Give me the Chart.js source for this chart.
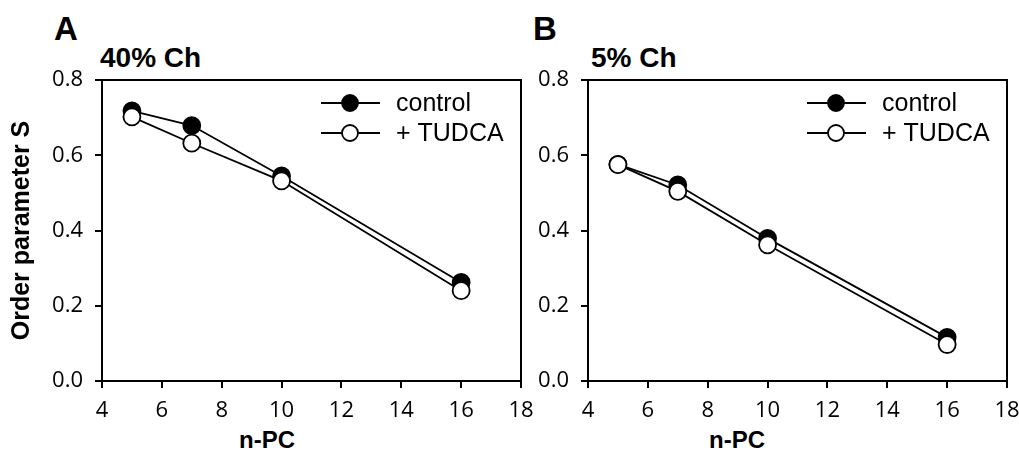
<!DOCTYPE html>
<html>
<head>
<meta charset="utf-8">
<script src="https://cdn.jsdelivr.net/npm/chart.js@4/dist/chart.umd.min.js"></script>
<style>
  html, body { margin: 0; padding: 0; background: #fff; }
  body { width: 1019px; height: 450px; position: relative; overflow: hidden; }
  .wrap { position: absolute; top: 0; }
  .lbl { position: absolute; font-family: "Liberation Sans", Arial, sans-serif; font-weight: bold; color: #000; white-space: nowrap; line-height: 1; }
</style>
</head>
<body>
<div class="lbl" style="left:54px; top:12px; font-size:33px;">A</div>
<div class="lbl" style="left:533px; top:12px; font-size:33px;">B</div>
<div class="lbl" style="left:100px; top:44px; font-size:28px;">40% Ch</div>
<div class="lbl" style="left:591px; top:44px; font-size:28px;">5% Ch</div>
<div class="lbl" id="xtA" style="top:428px; font-size:24px;">n-PC</div>
<div class="lbl" id="xtB" style="top:428px; font-size:24px;">n-PC</div>
<div class="wrap" style="left:0px;"><canvas id="cA" width="545" height="450"></canvas></div>
<div class="wrap" style="left:510px;"><canvas id="cB" width="521" height="450"></canvas></div>
<script>
// ---- data ----
const nPC = [5, 7, 10, 16];
const control40 = [0.718, 0.679, 0.545, 0.262];
const tudca40   = [0.702, 0.632, 0.532, 0.240];
const control5  = [0.576, 0.521, 0.379, 0.116];
const tudca5    = [0.575, 0.504, 0.362, 0.097];
const xTickValues = [4, 6, 8, 10, 12, 14, 16, 18];
const yTickValues = [0.0, 0.2, 0.4, 0.6, 0.8];
const yTickLabels = ['0.0', '0.2', '0.4', '0.6', '0.8'];
const seriesNames = ['control', '+ TUDCA'];

// center the n-PC labels
function placeCenter(id, cx) {
  const el = document.getElementById(id);
  el.style.left = (cx - el.offsetWidth / 2) + 'px';
}
placeCenter('xtA', 267);
placeCenter('xtB', 737);

const framePlugin = {
  id: 'frame',
  beforeDatasetsDraw(chart) {
    const { ctx, chartArea: a } = chart;
    ctx.save();
    ctx.strokeStyle = '#000';
    ctx.lineWidth = 2;
    ctx.beginPath();
    ctx.moveTo(a.left - 1, a.top);
    ctx.lineTo(a.right, a.top);
    ctx.lineTo(a.right, a.bottom + 1);
    ctx.stroke();
    ctx.restore();
  }
};

const legendPlugin = {
  id: 'inLegend',
  afterDatasetsDraw(chart) {
    const { ctx, chartArea: a } = chart;
    const rows = [
      { name: seriesNames[0], fill: '#000', dy: 23 },
      { name: seriesNames[1], fill: '#fff', dy: 53 }
    ];
    ctx.save();
    rows.forEach(r => {
      const y = a.top + r.dy;
      ctx.strokeStyle = '#000';
      ctx.lineWidth = 2;
      ctx.beginPath();
      ctx.moveTo(a.right - 200, y);
      ctx.lineTo(a.right - 141, y);
      ctx.stroke();
      ctx.beginPath();
      ctx.arc(a.right - 171, y, 8, 0, Math.PI * 2);
      ctx.fillStyle = r.fill;
      ctx.fill();
      ctx.lineWidth = 1.8;
      ctx.stroke();
      ctx.fillStyle = '#000';
      ctx.font = '25px "Liberation Sans", Arial, sans-serif';
      ctx.textBaseline = 'middle';
      ctx.textAlign = 'left';
      ctx.fillText(r.name, a.right - 125, y + 1);
    });
    ctx.restore();
  }
};

function makeChart(id, ctrl, tud, opts) {
  const tickFont = { family: '"Open Sans", sans-serif', size: 22 };
  return new Chart(document.getElementById(id), {
    type: 'line',
    data: {
      datasets: [
        {
          label: seriesNames[0],
          data: nPC.map((x, i) => ({ x, y: ctrl[i] })),
          borderColor: '#000', borderWidth: 1.8,
          pointBackgroundColor: '#000', pointBorderColor: '#000',
          pointRadius: 8.5, pointBorderWidth: 1.8, pointHoverRadius: 8.5,
          order: 1, tension: 0
        },
        {
          label: seriesNames[1],
          data: nPC.map((x, i) => ({ x, y: tud[i] })),
          borderColor: '#000', borderWidth: 1.8,
          pointBackgroundColor: '#fff', pointBorderColor: '#000',
          pointRadius: 8.5, pointBorderWidth: 1.8, pointHoverRadius: 8.5,
          order: 0, tension: 0
        }
      ]
    },
    options: {
      responsive: false,
      animation: false,
      devicePixelRatio: 1,
      clip: false,
      layout: { padding: { top: 80, right: opts.padRight, left: 0, bottom: 0 } },
      plugins: { legend: { display: false }, tooltip: { enabled: false }, title: { display: false } },
      scales: {
        x: {
          type: 'linear',
          min: xTickValues[0], max: xTickValues[xTickValues.length - 1],
          afterBuildTicks: s => { s.ticks = xTickValues.map(v => ({ value: v })); },
          afterFit: s => { s.height = 69; },
          ticks: { font: tickFont, color: '#000', padding: 10, maxRotation: 0, autoSkip: false,
                   callback: v => String(v) },
          grid: { drawOnChartArea: false, drawTicks: true, tickLength: 7, color: '#000', lineWidth: 2 },
          border: { display: true, color: '#000', width: 2 }
        },
        y: {
          type: 'linear',
          min: yTickValues[0], max: yTickValues[yTickValues.length - 1],
          afterBuildTicks: s => { s.ticks = yTickValues.map(v => ({ value: v })); },
          afterFit: s => { s.width = opts.yWidth; },
          ticks: { font: tickFont, color: '#000', padding: 12, autoSkip: false,
                   callback: v => yTickLabels[yTickValues.findIndex(t => Math.abs(t - v) < 1e-9)] },
          grid: { drawOnChartArea: false, drawTicks: true, tickLength: 7, color: '#000', lineWidth: 2 },
          border: { display: true, color: '#000', width: 2 },
          title: {
            display: opts.yTitle,
            text: 'Order parameter S',
            color: '#000',
            font: { family: '"Liberation Sans", Arial, sans-serif', size: 25, weight: 'bold' },
            padding: { top: 7, bottom: 0 }
          }
        }
      }
    },
    plugins: [framePlugin, legendPlugin]
  });
}

makeChart('cA', control40, tudca40, { yWidth: 102, padRight: 24, yTitle: true });
makeChart('cB', control5, tudca5, { yWidth: 78, padRight: 24, yTitle: false });
</script>
</body>
</html>
